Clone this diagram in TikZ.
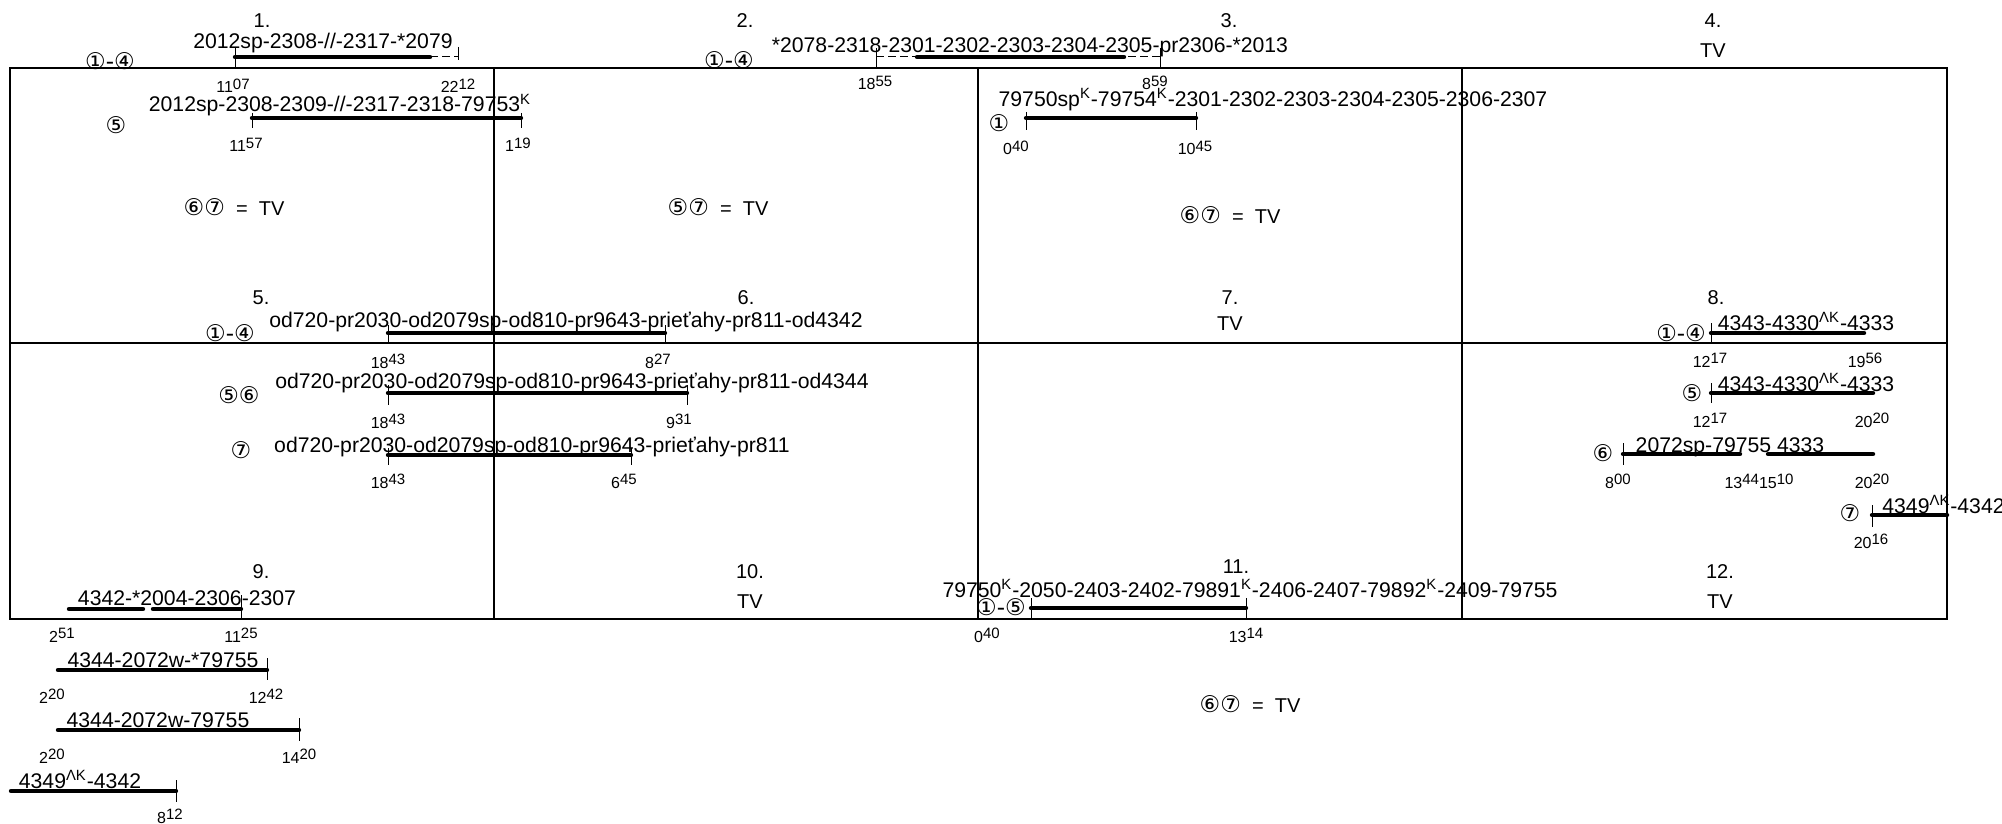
\documentclass[tikz,border=0pt]{standalone}
\usepackage{fontspec}
\setmainfont{Liberation Sans}
\newfontfamily\cfont{DejaVu Sans}
\usepackage{tikz}
\newcommand{\hmin}[2]{{\fontsize{8}{9}\selectfont #1\raisebox{1.6pt}{\fontsize{7.5}{8}\selectfont #2}}}
\newcommand{\cn}[1]{{\cfont\fontsize{11.5}{12}\selectfont #1}}
\begin{document}
\begin{tikzpicture}[x=0.5pt,y=-0.5pt]
 \tikzstyle{txt}=[anchor=base, inner sep=0pt, font=\fontsize{10.6}{12}\selectfont]
 \tikzstyle{num}=[anchor=base, inner sep=0pt, font=\fontsize{10}{12}\selectfont]
 \tikzstyle{tm}=[anchor=base, inner sep=0pt]
 \tikzstyle{cir}=[inner sep=0pt]
 \tikzstyle{boxln}=[line width=0.6pt]
 \tikzstyle{tbar}=[line width=2.2pt, line cap=round]
 \tikzstyle{dbar}=[line width=0.5pt, dash pattern=on 4pt off 2pt]
 \tikzstyle{tickln}=[line width=0.5pt]
 \useasboundingbox (0,0) rectangle (2002,824);
 \draw[boxln] (10,68) rectangle (1947,619);
 \draw[boxln] (10,343) -- (1947,343);
 \draw[boxln] (494,68) -- (494,619) (978,68) -- (978,619) (1462,68) -- (1462,619);
 % cell numbers
 \node[num] (c1) at (262,28) {1.};
 \node[num] (c2) at (745,28) {2.};
 \node[num] (c3) at (1229,28) {3.};
 \node[num] (c4) at (1713,28) {4.};
 \node[num] (tv4) at (1713,58) {TV};
 \node[num] (c5) at (261,304) {5.};
 \node[num] (c6) at (746,304) {6.};
 \node[num] (c7) at (1230,304) {7.};
 \node[num] (tv7) at (1230,330) {TV};
 \node[num] (c8) at (1716,304) {8.};
 \node[num] (c9) at (261,578) {9.};
 \node[num] (c10) at (750,578) {10.};
 \node[num] (tv10) at (750,608) {TV};
 \node[num] (c11) at (1236,573) {11.};
 \node[num] (c12) at (1720,578) {12.};
 \node[num] (tv12) at (1720,608) {TV};
 \node[num] (eq1) at (234,215) {\cn{⑥⑦}\ \ =\ \ TV};
 \node[num] (eq2) at (718,215) {\cn{⑤⑦}\ \ =\ \ TV};
 \node[num] (eq3) at (1230,223) {\cn{⑥⑦}\ \ =\ \ TV};
 \node[num] (eq11) at (1250,712) {\cn{⑥⑦}\ \ =\ \ TV};
 % routes
 \node[txt] (r1a) at (323,49) {2012sp-2308-//-2317-*2079};
 \node[txt] (r1b) at (340,112) {2012sp-2308-2309-//-2317-2318-79753\textsuperscript{K}};
 \node[txt] (r2a) at (1030,53) {*2078-2318-2301-2302-2303-2304-2305-pr2306-*2013};
 \node[txt] (r3a) at (1273,106) {79750sp\textsuperscript{K}-79754\textsuperscript{K}-2301-2302-2303-2304-2305-2306-2307};
 \node[txt] (r5a) at (566,327) {od720-pr2030-od2079sp-od810-pr9643-prieťahy-pr811-od4342};
 \node[txt] (r5b) at (572,388) {od720-pr2030-od2079sp-od810-pr9643-prieťahy-pr811-od4344};
 \node[txt] (r5c) at (532,452) {od720-pr2030-od2079sp-od810-pr9643-prieťahy-pr811};
 \node[txt] (r8a) at (1806,330) {4343-4330\textsuperscript{ΛK}-4333};
 \node[txt] (r8b) at (1806,391) {4343-4330\textsuperscript{ΛK}-4333};
 \node[txt] (r8c) at (1730,452) {2072sp-79755 4333};
 \node[txt,anchor=base west] (r8d) at (1882,513) {4349\textsuperscript{ΛK}-4342};
 \node[txt] (r9a) at (187,605) {4342-*2004-2306-2307};
 \node[txt] (r9b) at (163,667) {4344-2072w-*79755};
 \node[txt] (r9c) at (158,727) {4344-2072w-79755};
 \node[txt] (r9d) at (80,788) {4349\textsuperscript{ΛK}-4342};
 \node[txt] (r11a) at (1250,597) {79750\textsuperscript{K}-2050-2403-2402-79891\textsuperscript{K}-2406-2407-79892\textsuperscript{K}-2409-79755};
 % circled
 \node[cir] (k1) at (110,61) {\cn{①-④}};
 \node[cir] (k1b) at (116,125) {\cn{⑤}};
 \node[cir] (k2) at (729,60) {\cn{①-④}};
 \node[cir] (k3) at (999,123) {\cn{①}};
 \node[cir] (k5) at (230,333) {\cn{①-④}};
 \node[cir] (k5b) at (239,395) {\cn{⑤⑥}};
 \node[cir] (k5c) at (241,450) {\cn{⑦}};
 \node[cir] (k8) at (1681,333) {\cn{①-④}};
 \node[cir] (k8b) at (1692,393) {\cn{⑤}};
 \node[cir] (k8c) at (1603,453) {\cn{⑥}};
 \node[cir] (k8d) at (1850,513) {\cn{⑦}};
 \node[cir] (k11) at (1001,607) {\cn{①-⑤}};
 % times
 \node[tm] (a1) at (233,93) {\hmin{11}{07}};
 \node[tm] (b1) at (458,93) {\hmin{22}{12}};
 \node[tm] (a1b) at (246,152) {\hmin{11}{57}};
 \node[tm] (b1b) at (518,152) {\hmin{1}{19}};
 \node[tm] (a2) at (875,90) {\hmin{18}{55}};
 \node[tm] (b2) at (1155,90) {\hmin{8}{59}};
 \node[tm] (a3) at (1016,155) {\hmin{0}{40}};
 \node[tm] (b3) at (1195,155) {\hmin{10}{45}};
 \node[tm] (a5) at (388,368) {\hmin{18}{43}};
 \node[tm] (b5) at (658,368) {\hmin{8}{27}};
 \node[tm] (a5b) at (388,428) {\hmin{18}{43}};
 \node[tm] (b5b) at (679,428) {\hmin{9}{31}};
 \node[tm] (a5c) at (388,488) {\hmin{18}{43}};
 \node[tm] (b5c) at (624,488) {\hmin{6}{45}};
 \node[tm] (a8) at (1710,367) {\hmin{12}{17}};
 \node[tm] (b8) at (1865,367) {\hmin{19}{56}};
 \node[tm] (a8b) at (1710,427) {\hmin{12}{17}};
 \node[tm] (b8b) at (1872,427) {\hmin{20}{20}};
 \node[tm] (a8c) at (1618,488) {\hmin{8}{00}};
 \node[tm] (m8c) at (1759,488) {\hmin{13}{44}\hmin{15}{10}};
 \node[tm] (b8c) at (1872,488) {\hmin{20}{20}};
 \node[tm] (a8d) at (1871,548) {\hmin{20}{16}};
 \node[tm] (a9) at (62,642) {\hmin{2}{51}};
 \node[tm] (b9) at (241,642) {\hmin{11}{25}};
 \node[tm] (a9b) at (52,703) {\hmin{2}{20}};
 \node[tm] (b9b) at (266,703) {\hmin{12}{42}};
 \node[tm] (a9c) at (52,763) {\hmin{2}{20}};
 \node[tm] (b9c) at (299,763) {\hmin{14}{20}};
 \node[tm] (b9d) at (170,823) {\hmin{8}{12}};
 \node[tm] (a11) at (987,642) {\hmin{0}{40}};
 \node[tm] (b11) at (1246,642) {\hmin{13}{14}};
 % bars
 \draw[tbar] (235,57) -- (430,57);
 \draw[dbar] (430,57) -- (458,57);
 \draw[tickln] (235,48) -- (235,68) (458,47) -- (458,60);
 \draw[tbar] (252,118) -- (521,118);
 \draw[tickln] (252,113) -- (252,128) (521,113) -- (521,128);
 \draw[dbar] (876,57) -- (1160,57);
 \draw[tbar] (917,57) -- (1124,57);
 \draw[tickln] (876,48) -- (876,68) (1160,48) -- (1160,68);
 \draw[tbar] (1026,118) -- (1196,118);
 \draw[tickln] (1026,112) -- (1026,130) (1196,112) -- (1196,130);
 \draw[tbar] (388,333) -- (665,333);
 \draw[tickln] (388,325) -- (388,343) (665,325) -- (665,343);
 \draw[tbar] (388,393) -- (687,393);
 \draw[tickln] (388,385) -- (388,405) (687,385) -- (687,405);
 \draw[tbar] (388,455) -- (631,455);
 \draw[tickln] (388,448) -- (388,465) (631,448) -- (631,465);
 \draw[tbar] (1711,333) -- (1864,333);
 \draw[tickln] (1711,323) -- (1711,343);
 \draw[tbar] (1711,393) -- (1873,393);
 \draw[tickln] (1711,383) -- (1711,403);
 \draw[tbar] (1623,454) -- (1740,454) (1768,454) -- (1873,454);
 \draw[tickln] (1623,443) -- (1623,465);
 \draw[tbar] (1872,515) -- (1947,515);
 \draw[tickln] (1872,505) -- (1872,527);
 \draw[tbar] (69,609) -- (143,609) (153,609) -- (241,609);
 \draw[tickln] (241,595) -- (241,618);
 \draw[tbar] (58,670) -- (267,670);
 \draw[tickln] (267,658) -- (267,680);
 \draw[tbar] (58,730) -- (299,730);
 \draw[tickln] (299,718) -- (299,741);
 \draw[tbar] (11,791) -- (176,791);
 \draw[tickln] (176,780) -- (176,802);
 \draw[tbar] (1031,608) -- (1246,608);
 \draw[tickln] (1031,598) -- (1031,619) (1246,598) -- (1246,619);
\end{tikzpicture}
\end{document}
